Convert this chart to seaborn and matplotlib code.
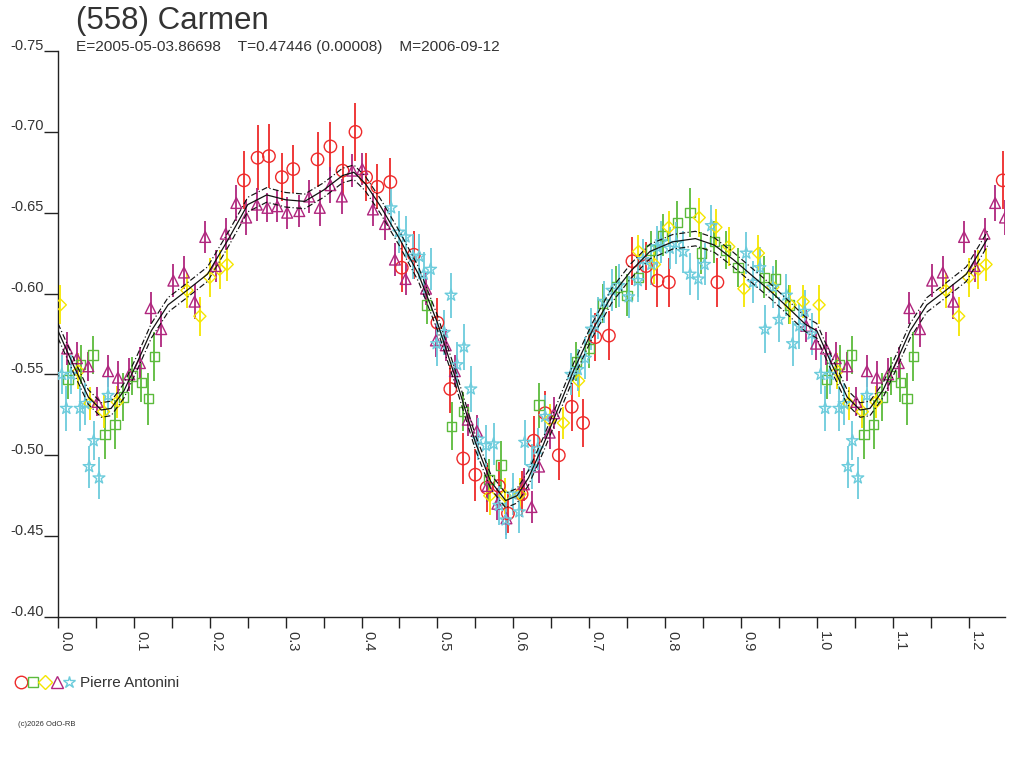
import numpy as np
import pandas as pd
import matplotlib
matplotlib.use("Agg")
import matplotlib.pyplot as plt
import seaborn as sns
from matplotlib.ticker import MultipleLocator, FormatStrFormatter
from matplotlib.legend_handler import HandlerTuple
from matplotlib.lines import Line2D
from matplotlib.transforms import ScaledTranslation

# ---------------- data (phase, reduced magnitude, error) ----------------
red_phase = [0.245, 0.263, 0.278, 0.295, 0.310, 0.342, 0.359, 0.375, 0.392, 0.406,
             0.421, 0.438, 0.453, 0.469, 0.500, 0.517, 0.534, 0.550, 0.565, 0.581,
             0.593, 0.611, 0.627, 0.642, 0.660, 0.677, 0.692, 0.708, 0.726, 0.757,
             0.775, 0.790, 0.805, 0.869]
red_mag = [-0.670, -0.684, -0.685, -0.672, -0.677, -0.683, -0.691, -0.676, -0.700, -0.672,
           -0.666, -0.669, -0.616, -0.624, -0.582, -0.541, -0.498, -0.488, -0.480, -0.481,
           -0.464, -0.476, -0.509, -0.526, -0.500, -0.530, -0.520, -0.573, -0.574, -0.620,
           -0.617, -0.608, -0.607, -0.607]
red_err = [0.018, 0.020, 0.020, 0.015, 0.015, 0.017, 0.015, 0.015, 0.018, 0.015,
           0.014, 0.015, 0.015, 0.015, 0.015, 0.015, 0.016, 0.016, 0.015, 0.015,
           0.012, 0.014, 0.015, 0.014, 0.015, 0.015, 0.015, 0.015, 0.015, 0.015,
           0.015, 0.016, 0.015, 0.015]

green_phase = [0.013, 0.030, 0.046, 0.062, 0.075, 0.086, 0.098, 0.110, 0.119, 0.127,
               0.486, 0.519, 0.534, 0.568, 0.584, 0.634, 0.683, 0.700, 0.718, 0.736,
               0.750, 0.765, 0.781, 0.797, 0.816, 0.833, 0.848, 0.865, 0.880, 0.896,
               0.931, 0.946, 0.964]
green_mag = [-0.547, -0.556, -0.562, -0.513, -0.519, -0.536, -0.549, -0.545, -0.535, -0.561,
             -0.593, -0.518, -0.527, -0.485, -0.494, -0.531, -0.558, -0.566, -0.594, -0.604,
             -0.599, -0.610, -0.627, -0.636, -0.644, -0.650, -0.625, -0.632, -0.627, -0.616,
             -0.610, -0.609, -0.593]
green_err = [0.012, 0.012, 0.012, 0.015, 0.015, 0.015, 0.012, 0.012, 0.016, 0.015,
             0.012, 0.015, 0.012, 0.013, 0.015, 0.014, 0.012, 0.012, 0.012, 0.013,
             0.013, 0.012, 0.012, 0.013, 0.013, 0.015, 0.013, 0.013, 0.012, 0.012,
             0.013, 0.012, 0.012]

yellow_phase = [0.003, 0.027, 0.042, 0.060, 0.078, 0.170, 0.187, 0.200, 0.213, 0.223,
                0.569, 0.589, 0.609, 0.648, 0.666, 0.686, 0.765, 0.786, 0.805, 0.845,
                0.867, 0.884, 0.904, 0.923, 0.942, 0.965, 0.982]
yellow_mag = [-0.593, -0.552, -0.532, -0.527, -0.533, -0.602, -0.586, -0.610, -0.615, -0.618,
              -0.475, -0.475, -0.476, -0.522, -0.520, -0.546, -0.626, -0.618, -0.641, -0.647,
              -0.641, -0.629, -0.603, -0.625, -0.604, -0.593, -0.595]
yellow_err = [0.012, 0.011, 0.010, 0.010, 0.010, 0.011, 0.012, 0.012, 0.012, 0.010,
              0.012, 0.011, 0.010, 0.010, 0.010, 0.010, 0.010, 0.012, 0.010, 0.012,
              0.011, 0.012, 0.011, 0.011, 0.010, 0.012, 0.010]

purple_phase = [0.012, 0.025, 0.040, 0.052, 0.066, 0.079, 0.094, 0.108, 0.122, 0.136,
                0.152, 0.166, 0.180, 0.194, 0.208, 0.221, 0.235, 0.248, 0.262, 0.276,
                0.289, 0.302, 0.318, 0.331, 0.345, 0.359, 0.374, 0.388, 0.401, 0.415,
                0.431, 0.444, 0.458, 0.485, 0.498, 0.511, 0.523, 0.540, 0.552, 0.566,
                0.579, 0.591, 0.614, 0.624, 0.634, 0.648, 0.654, 0.986, 0.999]
purple_mag = [-0.566, -0.560, -0.555, -0.533, -0.552, -0.548, -0.550, -0.557, -0.591, -0.578,
              -0.608, -0.613, -0.595, -0.635, -0.617, -0.637, -0.656, -0.647, -0.655, -0.653,
              -0.654, -0.650, -0.651, -0.660, -0.653, -0.667, -0.660, -0.676, -0.677, -0.652,
              -0.643, -0.621, -0.609, -0.603, -0.571, -0.568, -0.552, -0.522, -0.515, -0.481,
              -0.470, -0.461, -0.482, -0.468, -0.493, -0.514, -0.526, -0.580, -0.569]
purple_err = [0.010, 0.010, 0.009, 0.009, 0.010, 0.010, 0.010, 0.010, 0.010, 0.011,
              0.010, 0.010, 0.011, 0.010, 0.010, 0.010, 0.011, 0.011, 0.010, 0.009,
              0.010, 0.010, 0.010, 0.010, 0.011, 0.011, 0.011, 0.010, 0.010, 0.010,
              0.010, 0.010, 0.010, 0.010, 0.010, 0.010, 0.010, 0.010, 0.010, 0.010,
              0.010, 0.010, 0.010, 0.010, 0.010, 0.010, 0.010, 0.010, 0.010]

cyan_phase = [0.005, 0.011, 0.017, 0.029, 0.036, 0.041, 0.047, 0.054, 0.066, 0.439,
              0.449, 0.458, 0.468, 0.476, 0.482, 0.491, 0.499, 0.509, 0.518, 0.526,
              0.535, 0.544, 0.554, 0.564, 0.574, 0.581, 0.590, 0.599, 0.608, 0.615,
              0.624, 0.632, 0.642, 0.676, 0.685, 0.695, 0.703, 0.711, 0.720, 0.730,
              0.739, 0.752, 0.764, 0.771, 0.782, 0.789, 0.795, 0.806, 0.815, 0.824,
              0.833, 0.844, 0.852, 0.861, 0.907, 0.916, 0.925, 0.932, 0.942, 0.950,
              0.960, 0.968, 0.977, 0.984, 0.993]
cyan_mag = [-0.550, -0.529, -0.550, -0.529, -0.532, -0.493, -0.509, -0.486, -0.537, -0.653,
            -0.638, -0.635, -0.623, -0.623, -0.612, -0.615, -0.569, -0.576, -0.599, -0.556,
            -0.567, -0.541, -0.510, -0.506, -0.507, -0.469, -0.460, -0.476, -0.465, -0.508,
            -0.493, -0.504, -0.524, -0.550, -0.553, -0.560, -0.578, -0.585, -0.595, -0.602,
            -0.605, -0.598, -0.608, -0.621, -0.618, -0.629, -0.632, -0.628, -0.631, -0.626,
            -0.612, -0.609, -0.618, -0.642, -0.625, -0.607, -0.616, -0.578, -0.604, -0.584,
            -0.599, -0.569, -0.580, -0.589, -0.575]
cyan_err = [0.012, 0.014, 0.012, 0.014, 0.013, 0.013, 0.012, 0.013, 0.012, 0.012,
            0.013, 0.013, 0.014, 0.014, 0.014, 0.013, 0.014, 0.014, 0.014, 0.014,
            0.014, 0.014, 0.013, 0.013, 0.013, 0.012, 0.012, 0.013, 0.013, 0.014,
            0.014, 0.013, 0.013, 0.013, 0.013, 0.013, 0.013, 0.013, 0.013, 0.013,
            0.013, 0.013, 0.013, 0.013, 0.013, 0.013, 0.013, 0.013, 0.013, 0.013,
            0.013, 0.013, 0.013, 0.013, 0.013, 0.013, 0.013, 0.015, 0.013, 0.014,
            0.013, 0.014, 0.014, 0.013, 0.013]

# fitted Fourier curve
fit_phase = [0.000, 0.020, 0.040, 0.057, 0.070, 0.087, 0.105, 0.123, 0.145, 0.170,
             0.197, 0.225, 0.250, 0.275, 0.300, 0.325, 0.350, 0.375, 0.390, 0.405,
             0.425, 0.450, 0.475, 0.500, 0.525, 0.550, 0.570, 0.590, 0.605, 0.620,
             0.640, 0.660, 0.680, 0.705, 0.730, 0.755, 0.780, 0.810, 0.840, 0.865,
             0.890, 0.915, 0.940, 0.965, 0.985, 1.000]
fit_mag = [-0.577, -0.556, -0.536, -0.528, -0.529, -0.540, -0.558, -0.577, -0.593, -0.602,
           -0.612, -0.634, -0.655, -0.661, -0.658, -0.657, -0.664, -0.673, -0.675, -0.668,
           -0.654, -0.634, -0.612, -0.582, -0.546, -0.508, -0.484, -0.472, -0.475, -0.486,
           -0.507, -0.530, -0.553, -0.578, -0.599, -0.614, -0.626, -0.632, -0.634, -0.630,
           -0.621, -0.611, -0.601, -0.590, -0.581, -0.577]
fit_band = 0.0045

series_names = ["red", "green", "yellow", "purple", "cyan"]
series_colors = ["#ee2a2a", "#5cbb3c", "#f5e600", "#b0267e", "#6cccdc"]
series_markers = ["o", "s", "D", "^", "*"]
series_sizes = [80, 45, 38, 60, 80]
phases = [red_phase, green_phase, yellow_phase, purple_phase, cyan_phase]
mags = [red_mag, green_mag, yellow_mag, purple_mag, cyan_mag]
errs = [red_err, green_err, yellow_err, purple_err, cyan_err]

title = "(558) Carmen"
subtitle = "E=2005-05-03.86698    T=0.47446 (0.00008)    M=2006-09-12"
observer = "Pierre Antonini"
copyright_txt = "(c)2026 OdO-RB"
x_max = 1.248
wrap_limit = 0.25


def extend(ph, *cols):
    """Repeat phases below wrap_limit one cycle later (phase + 1)."""
    ph = np.asarray(ph)
    mask = ph < wrap_limit
    out = [np.concatenate([ph, ph[mask] + 1.0])]
    for c in cols:
        c = np.asarray(c)
        out.append(np.concatenate([c, c[mask]]))
    return out


sns.set_theme(style="white")
plt.rcParams["font.family"] = ["Liberation Sans", "DejaVu Sans"]
TXT = "#333333"

fig = plt.figure(figsize=(10.24, 7.68), dpi=100)
ax = fig.add_axes([58 / 1024, 151 / 768, (1005 - 58) / 1024, (617 - 51) / 768])

# fitted curve and its band
fx, fy = extend(fit_phase, fit_mag)
order = np.argsort(fx)
fx, fy = fx[order], fy[order]
curve = pd.DataFrame({"phase": fx, "mag": fy})
sns.lineplot(data=curve, x="phase", y="mag", sort=False, color="#111111",
             linewidth=0.9, ax=ax, zorder=5)
for sgn in (-1, 1):
    band = pd.DataFrame({"phase": fx, "mag": fy + sgn * fit_band})
    sns.lineplot(data=band, x="phase", y="mag", sort=False, color="#111111",
                 linewidth=0.85, ax=ax, zorder=5,
                 linestyle=(0, (5, 2, 1, 2)))

# observations
for name, col, mk, sz, ph, mg, er in zip(series_names, series_colors, series_markers,
                                          series_sizes, phases, mags, errs):
    px, pm, pe = extend(ph, mg, er)
    df = pd.DataFrame({"phase": px, "mag": pm, "err": pe})
    ax.errorbar(df["phase"], df["mag"], yerr=df["err"], fmt="none",
                ecolor=col, elinewidth=1.3, capsize=0, zorder=3)
    sns.scatterplot(data=df, x="phase", y="mag", marker=mk, s=sz,
                    facecolors="none", edgecolor=col, linewidth=1.0,
                    ax=ax, zorder=4, legend=False)

# axes styling
ax.set_xlim(0, x_max)
ax.set_ylim(-0.40, -0.75)
ax.set_xlabel("")
ax.set_ylabel("")
for s in ("top", "right"):
    ax.spines[s].set_visible(False)
for s in ("left", "bottom"):
    ax.spines[s].set_color("#222222")
    ax.spines[s].set_linewidth(1.0)

ax.xaxis.set_major_locator(MultipleLocator(0.1))
ax.xaxis.set_minor_locator(MultipleLocator(0.05))
ax.xaxis.set_major_formatter(FormatStrFormatter("%.1f"))
ax.yaxis.set_major_locator(MultipleLocator(0.05))
ax.yaxis.set_major_formatter(FormatStrFormatter("%.2f"))
ax.tick_params(axis="x", which="both", direction="out", length=8, width=1,
               color="#222222", bottom=True, labelsize=10.5, labelcolor=TXT, pad=2)
ax.tick_params(axis="y", which="major", direction="out", length=10, width=1,
               color="#222222", left=True, labelsize=10.5, labelcolor=TXT, pad=0)
for lab in ax.get_xticklabels():
    lab.set_rotation(-90)
    lab.set_horizontalalignment("left")
    lab.set_verticalalignment("top")
shift = ScaledTranslation(0, 7 / 100, fig.dpi_scale_trans)
for lab in ax.get_yticklabels():
    lab.set_transform(lab.get_transform() + shift)

# titles
fig.text(76 / 1024, 1 - 21 / 768, title, fontsize=22.5, color=TXT,
         ha="left", va="center")
fig.text(76 / 1024, 1 - 47 / 768, subtitle, fontsize=11.1, color=TXT,
         ha="left", va="center")

# legend
handles = tuple(Line2D([], [], linestyle="none", marker=m, markersize=ms,
                       markerfacecolor="none", markeredgecolor=c, markeredgewidth=1.0)
                for m, c, ms in zip(series_markers, series_colors, [9, 7, 7, 8, 9]))
fig.legend([handles], [observer], handler_map={tuple: HandlerTuple(ndivide=None, pad=0.1)},
           loc="center left", bbox_to_anchor=(16 / 1024, 1 - 683 / 768),
           frameon=False, fontsize=11, handlelength=3.8, handletextpad=0.4,
           labelcolor=TXT, borderpad=0, borderaxespad=0)

fig.text(18 / 1024, 1 - 725 / 768, copyright_txt, fontsize=5.5, color=TXT,
         ha="left", va="center")

fig.savefig("out.png", dpi=100)
